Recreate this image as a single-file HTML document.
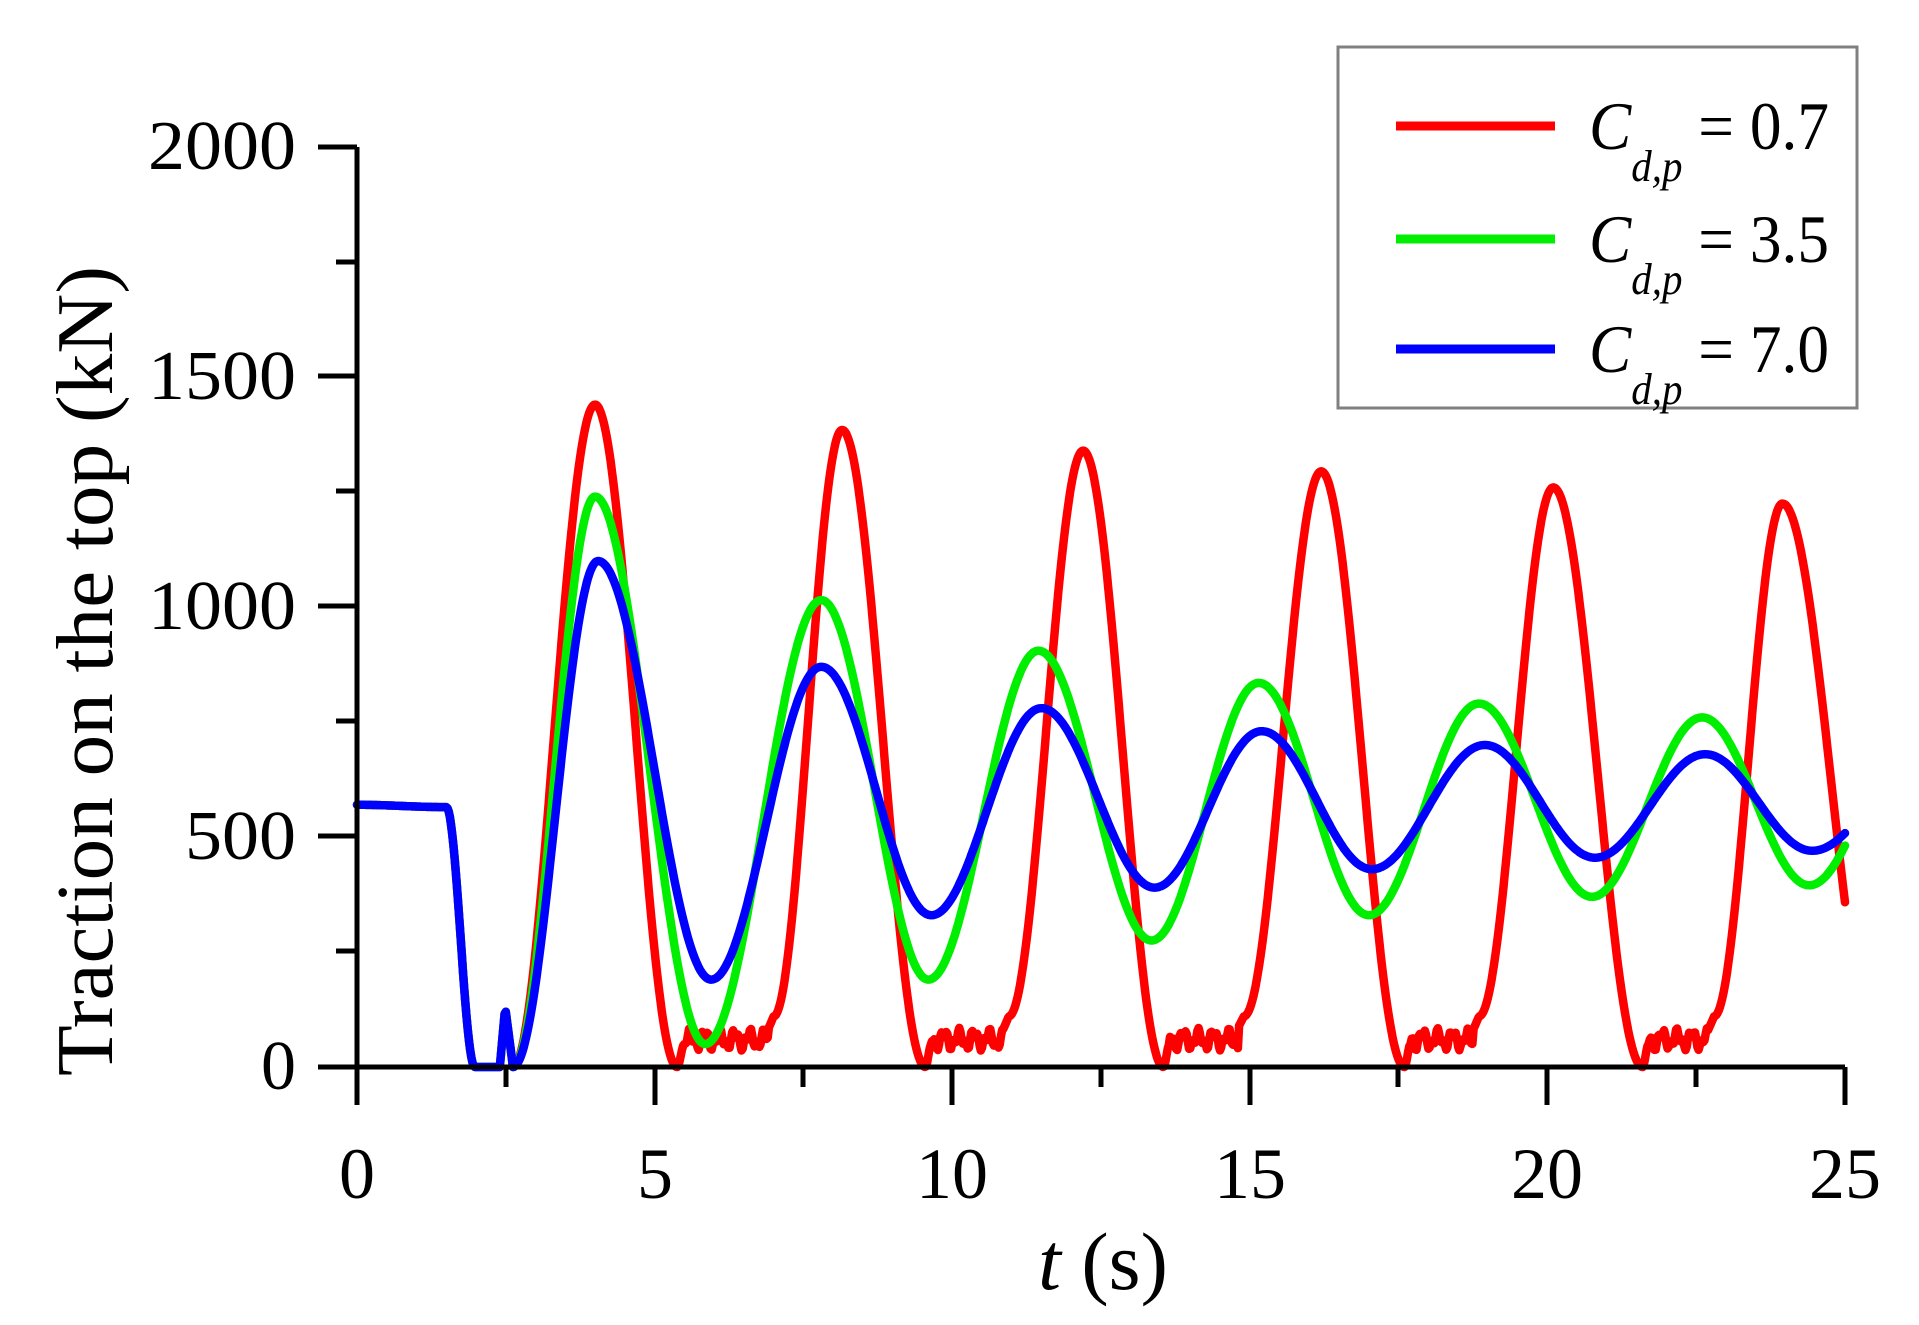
<!DOCTYPE html>
<html><head><meta charset="utf-8"><style>
html,body{margin:0;padding:0;background:#fff;}
svg{display:block;}
text{font-family:"Liberation Serif",serif;fill:#000;}
</style></head><body>
<svg id="s" width="1919" height="1325" viewBox="0 0 1919 1325" xmlns="http://www.w3.org/2000/svg">
<rect width="1919" height="1325" fill="#fff"/>
<g id="curves" fill="none" stroke-width="8.5" stroke-linejoin="round" stroke-linecap="round"></g>
<g stroke="#000" stroke-width="5" fill="none">
<path d="M357 147 V1067 H1845"/>
<path d="M318 147 H357 M318 376 H357 M318 606 H357 M318 836 H357 M318 1067 H357"/>
<path d="M336 262 H357 M336 491 H357 M336 721 H357 M336 951 H357"/>
<path d="M357 1067 V1105 M655 1067 V1105 M952 1067 V1105 M1250 1067 V1105 M1547 1067 V1105 M1845 1067 V1105"/>
<path d="M506 1067 V1087 M803 1067 V1087 M1101 1067 V1087 M1398 1067 V1087 M1696 1067 V1087"/>
</g>
<g font-size="70" text-anchor="end">
<text x="296" y="169" textLength="148" lengthAdjust="spacingAndGlyphs">2000</text>
<text x="296" y="399" textLength="148" lengthAdjust="spacingAndGlyphs">1500</text>
<text x="296" y="629" textLength="148" lengthAdjust="spacingAndGlyphs">1000</text>
<text x="296" y="859" textLength="111" lengthAdjust="spacingAndGlyphs">500</text>
<text x="296" y="1089">0</text>
</g>
<g font-size="72" text-anchor="middle">
<text x="357" y="1198">0</text>
<text x="655" y="1198">5</text>
<text x="952" y="1198">10</text>
<text x="1250" y="1198">15</text>
<text x="1547" y="1198">20</text>
<text x="1845" y="1198">25</text>
</g>
<text x="1103" y="1289" font-size="82" text-anchor="middle"><tspan font-style="italic">t</tspan> (s)</text>
<text transform="translate(112,671) rotate(-90)" font-size="80" text-anchor="middle" textLength="810" lengthAdjust="spacingAndGlyphs">Traction on the top (kN)</text>
<rect x="1338" y="47" width="519" height="361" fill="#fff" stroke="#808080" stroke-width="3"/>
<g stroke-width="9">
<line x1="1396" y1="126" x2="1555" y2="126" stroke="#ff0000"/>
<line x1="1396" y1="239" x2="1555" y2="239" stroke="#00ee00"/>
<line x1="1396" y1="349" x2="1555" y2="349" stroke="#0000ff"/>
</g>
<g font-size="68">
<text x="1589" y="149" textLength="240" lengthAdjust="spacingAndGlyphs"><tspan font-style="italic">C</tspan><tspan font-style="italic" font-size="44" dy="32">d,p</tspan><tspan dy="-32"> = 0.7</tspan></text>
<text x="1589" y="262" textLength="240" lengthAdjust="spacingAndGlyphs"><tspan font-style="italic">C</tspan><tspan font-style="italic" font-size="44" dy="32">d,p</tspan><tspan dy="-32"> = 3.5</tspan></text>
<text x="1589" y="372" textLength="240" lengthAdjust="spacingAndGlyphs"><tspan font-style="italic">C</tspan><tspan font-style="italic" font-size="44" dy="32">d,p</tspan><tspan dy="-32"> = 7.0</tspan></text>
</g>
</svg>
<script>
(function(){
function X(t){return 357+59.52*t;}
function Y(v){return 1067-0.46*v;}
function interp(keys,t){
  for(var i=0;i<keys.length-1;i++){
    var a=keys[i],b=keys[i+1];
    if(t>=a[0]&&t<=b[0]){
      var u=(t-a[0])/(b[0]-a[0]);
      if(a[2]==='l') return a[1]+(b[1]-a[1])*u;
      var w=(1-Math.cos(Math.PI*u))/2;
      return a[1]+(b[1]-a[1])*w;
    }
  }
  return keys[keys.length-1][1];
}
var start=[[0,570],[1.5,565],[1.98,0,'l'],[2.4,0,'l'],[2.49,130,'l'],[2.62,0]];
function build(keys,noise){
  var d='';
  for(var t=0;t<=25.0001;t+=0.02){
    var v=interp(keys,t);
    if(noise){ for(var k=0;k<noise.length;k++){var n=noise[k]; if(t>n[0]&&t<n[1]){v=60+15*Math.sin(t*25)+10*Math.sin(t*61);}}}
    d+=(d?'L':'M')+X(t).toFixed(1)+' '+Y(v).toFixed(1);
  }
  return d;
}
var red=start.concat([[4.0,1440],[5.38,0],[5.5,50,'l'],[6.9,80,'l'],[7.0,110],[8.15,1385],[9.55,0],[9.65,50,'l'],[10.85,80,'l'],[10.95,110],[12.2,1340],[13.55,0],[13.65,50,'l'],[14.8,85,'l'],[14.9,110],[16.2,1295],[17.6,0],[17.7,50,'l'],[18.75,80,'l'],[18.85,110],[20.1,1260],[21.6,0],[21.7,50,'l'],[22.7,80,'l'],[22.8,110],[23.95,1225],[25.6,0]]);
var redNoise=[[5.5,6.9],[9.65,10.85],[13.65,14.8],[17.7,18.75],[21.7,22.7]];
var green=start.concat([[4.0,1240],[5.85,50],[7.8,1015],[9.6,190],[11.45,905],[13.35,275],[15.15,835],[17.0,330],[18.85,790],[20.75,370],[22.6,760],[24.4,395],[26.2,740]]);
var blue=start.concat([[4.05,1100],[5.95,190],[7.8,870],[9.65,330],[11.5,780],[13.4,390],[15.2,730],[17.05,430],[18.95,700],[20.8,455],[22.65,680],[24.45,470],[26.3,660]]);
var g=document.getElementById('curves');
var ns='http://www.w3.org/2000/svg';
[[red,'#ff0000',redNoise],[green,'#00ee00',null],[blue,'#0000ff',null]].forEach(function(s){
  var p=document.createElementNS(ns,'path');
  p.setAttribute('d',build(s[0],s[2]));
  p.setAttribute('stroke',s[1]);
  g.appendChild(p);
});
})();
</script>
</body></html>
